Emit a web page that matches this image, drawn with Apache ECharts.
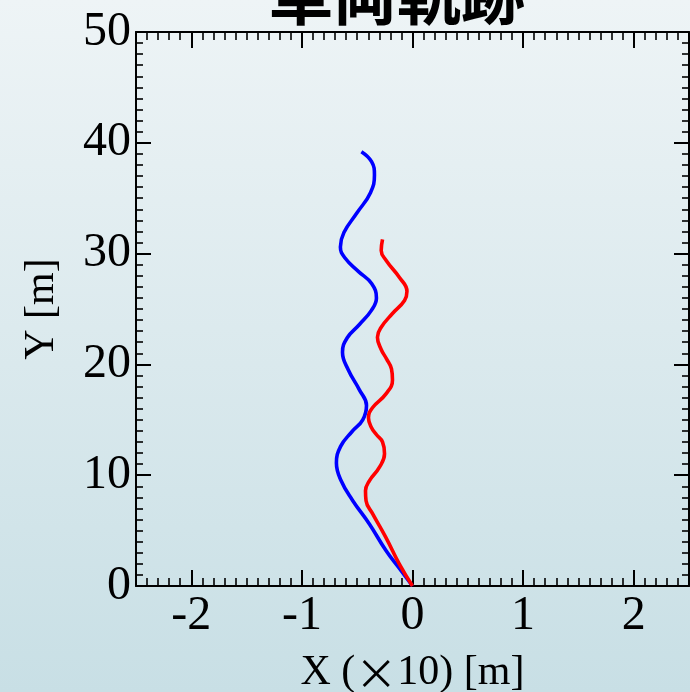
<!DOCTYPE html>
<html>
<head>
<meta charset="utf-8">
<script src="https://cdn.jsdelivr.net/npm/echarts@6/dist/echarts.min.js"></script>
<style>
html,body{margin:0;padding:0;}
#c{width:690px;height:692px;}
</style>
</head>
<body>
<div id="c"></div>
<script>
const titleText = '車両軌跡';
const xNameParts = ['X (', '×', '10) [m]'];
const yName = 'Y [m]';
const xTickLabels = [-2, -1, 0, 1, 2];
const yTickLabels = [0, 10, 20, 30, 40, 50];

const blueX = [0, -0.12, -0.24, -0.39, -0.54, -0.645, -0.688, -0.65, -0.55, -0.45, -0.416, -0.48, -0.58, -0.633, -0.59, -0.48, -0.37, -0.326, -0.37, -0.49, -0.61, -0.652, -0.62, -0.50, -0.38, -0.344, -0.37, -0.462];
const blueY = [0, 1.6, 3.2, 5.6, 7.7, 9.5, 11.1, 12.6, 13.9, 15.0, 16.3, 17.7, 19.5, 21.1, 22.4, 23.6, 24.9, 26.0, 27.3, 28.4, 29.6, 30.6, 31.9, 33.7, 35.5, 37.1, 38.3, 39.2];
const redX = [0, -0.12, -0.24, -0.36, -0.42, -0.425, -0.39, -0.30, -0.253, -0.271, -0.325, -0.374, -0.398, -0.362, -0.238, -0.181, -0.19, -0.235, -0.283, -0.317, -0.283, -0.181, -0.072, -0.05, -0.118, -0.238, -0.283, -0.271];
const redY = [0, 2.0, 4.37, 6.51, 7.69, 8.59, 9.49, 10.7, 11.93, 13.0, 13.65, 14.35, 15.19, 16.09, 17.36, 18.6, 19.6, 20.5, 21.35, 22.45, 23.35, 24.59, 25.77, 26.6, 27.85, 29.38, 30.29, 31.28];

const serif = '"Liberation Serif", "Times New Roman", serif';
const zip = (xs, ys) => xs.map((x, i) => [x, ys[i]]);

const chart = echarts.init(document.getElementById('c'), null, {renderer: 'canvas'});

const lineStyle = {color: '#000', width: 2};
const label = {color: '#000', fontSize: 48, fontFamily: serif};

function majorX(pos, withLabel) {
  return {
    type: 'value', gridIndex: 0, position: pos, min: -2.5, max: 2.5,
    axisLine: {show: true, onZero: false, lineStyle},
    axisTick: {show: true, inside: true, length: 16, lineStyle: {color: '#000', width: 2}, customValues: xTickLabels},
    axisLabel: withLabel ? Object.assign({show: true, margin: 6, customValues: xTickLabels}, label) : {show: false},
    splitLine: {show: false},
    name: withLabel ? xNameParts[0] + '{c|' + xNameParts[1] + '}' + xNameParts[2] : '',
    nameLocation: 'middle', nameGap: 66,
    nameTextStyle: {
      color: '#000', fontSize: 42, fontFamily: serif,
      rich: {c: {fontSize: 42, color: '#000', fontFamily: '"Noto Sans CJK JP", sans-serif'}}
    }
  };
}
function minorX(pos) {
  return {
    type: 'value', gridIndex: 1, position: pos, min: -2.5, max: 2.5, interval: 0.1,
    axisLine: {show: false, onZero: false},
    axisTick: {show: true, inside: true, length: 8, lineStyle: {color: '#000', width: 1.6}},
    axisLabel: {show: false}, splitLine: {show: false}
  };
}
function majorY(pos, withLabel) {
  return {
    type: 'value', gridIndex: 0, position: pos, min: 0, max: 50, interval: 10,
    axisLine: {show: true, onZero: false, lineStyle},
    axisTick: {show: true, inside: true, length: 15, lineStyle: {color: '#000', width: 2}},
    axisLabel: withLabel ? Object.assign({show: true, margin: 5}, label) : {show: false},
    splitLine: {show: false},
    name: withLabel ? yName : '',
    nameLocation: 'middle', nameGap: 73,
    nameTextStyle: {color: '#000', fontSize: 42, fontFamily: serif}
  };
}
function minorY(pos) {
  return {
    type: 'value', gridIndex: 1, position: pos, min: 0, max: 50, interval: 1,
    axisLine: {show: false, onZero: false},
    axisTick: {show: true, inside: true, length: 7, lineStyle: {color: '#000', width: 1.6}},
    axisLabel: {show: false}, splitLine: {show: false}
  };
}

const option = {
  animation: false,
  backgroundColor: {
    type: 'linear', x: 0, y: 0, x2: 0, y2: 1,
    colorStops: [{offset: 0, color: '#eef4f6'}, {offset: 1, color: '#c8dfe5'}]
  },
  title: {
    text: titleText, left: 392, top: -42, textAlign: 'center',
    textStyle: {fontSize: 64, fontWeight: 'bold', color: '#000', fontFamily: '"Noto Sans CJK JP", sans-serif'}
  },
  grid: [
    {left: 136, top: 32, right: 1, bottom: 106, outerBoundsMode: 'none', containLabel: false},
    {left: 136, top: 32, right: 1, bottom: 106, outerBoundsMode: 'none', containLabel: false}
  ],
  xAxis: [majorX('bottom', true), majorX('top', false), minorX('bottom'), minorX('top')],
  yAxis: [majorY('left', true), majorY('right', false), minorY('left'), minorY('right')],
  series: [
    {type: 'line', xAxisIndex: 0, yAxisIndex: 0, data: zip(blueX, blueY), smooth: 0.45, showSymbol: false, symbol: 'none',
     lineStyle: {color: '#0000ff', width: 3.6}, itemStyle: {color: '#0000ff'}, clip: true},
    {type: 'line', xAxisIndex: 0, yAxisIndex: 0, data: zip(redX, redY), smooth: 0.45, showSymbol: false, symbol: 'none',
     lineStyle: {color: '#ff0000', width: 3.6}, itemStyle: {color: '#ff0000'}, clip: true}
  ]
};
chart.setOption(option);
</script>
</body>
</html>
